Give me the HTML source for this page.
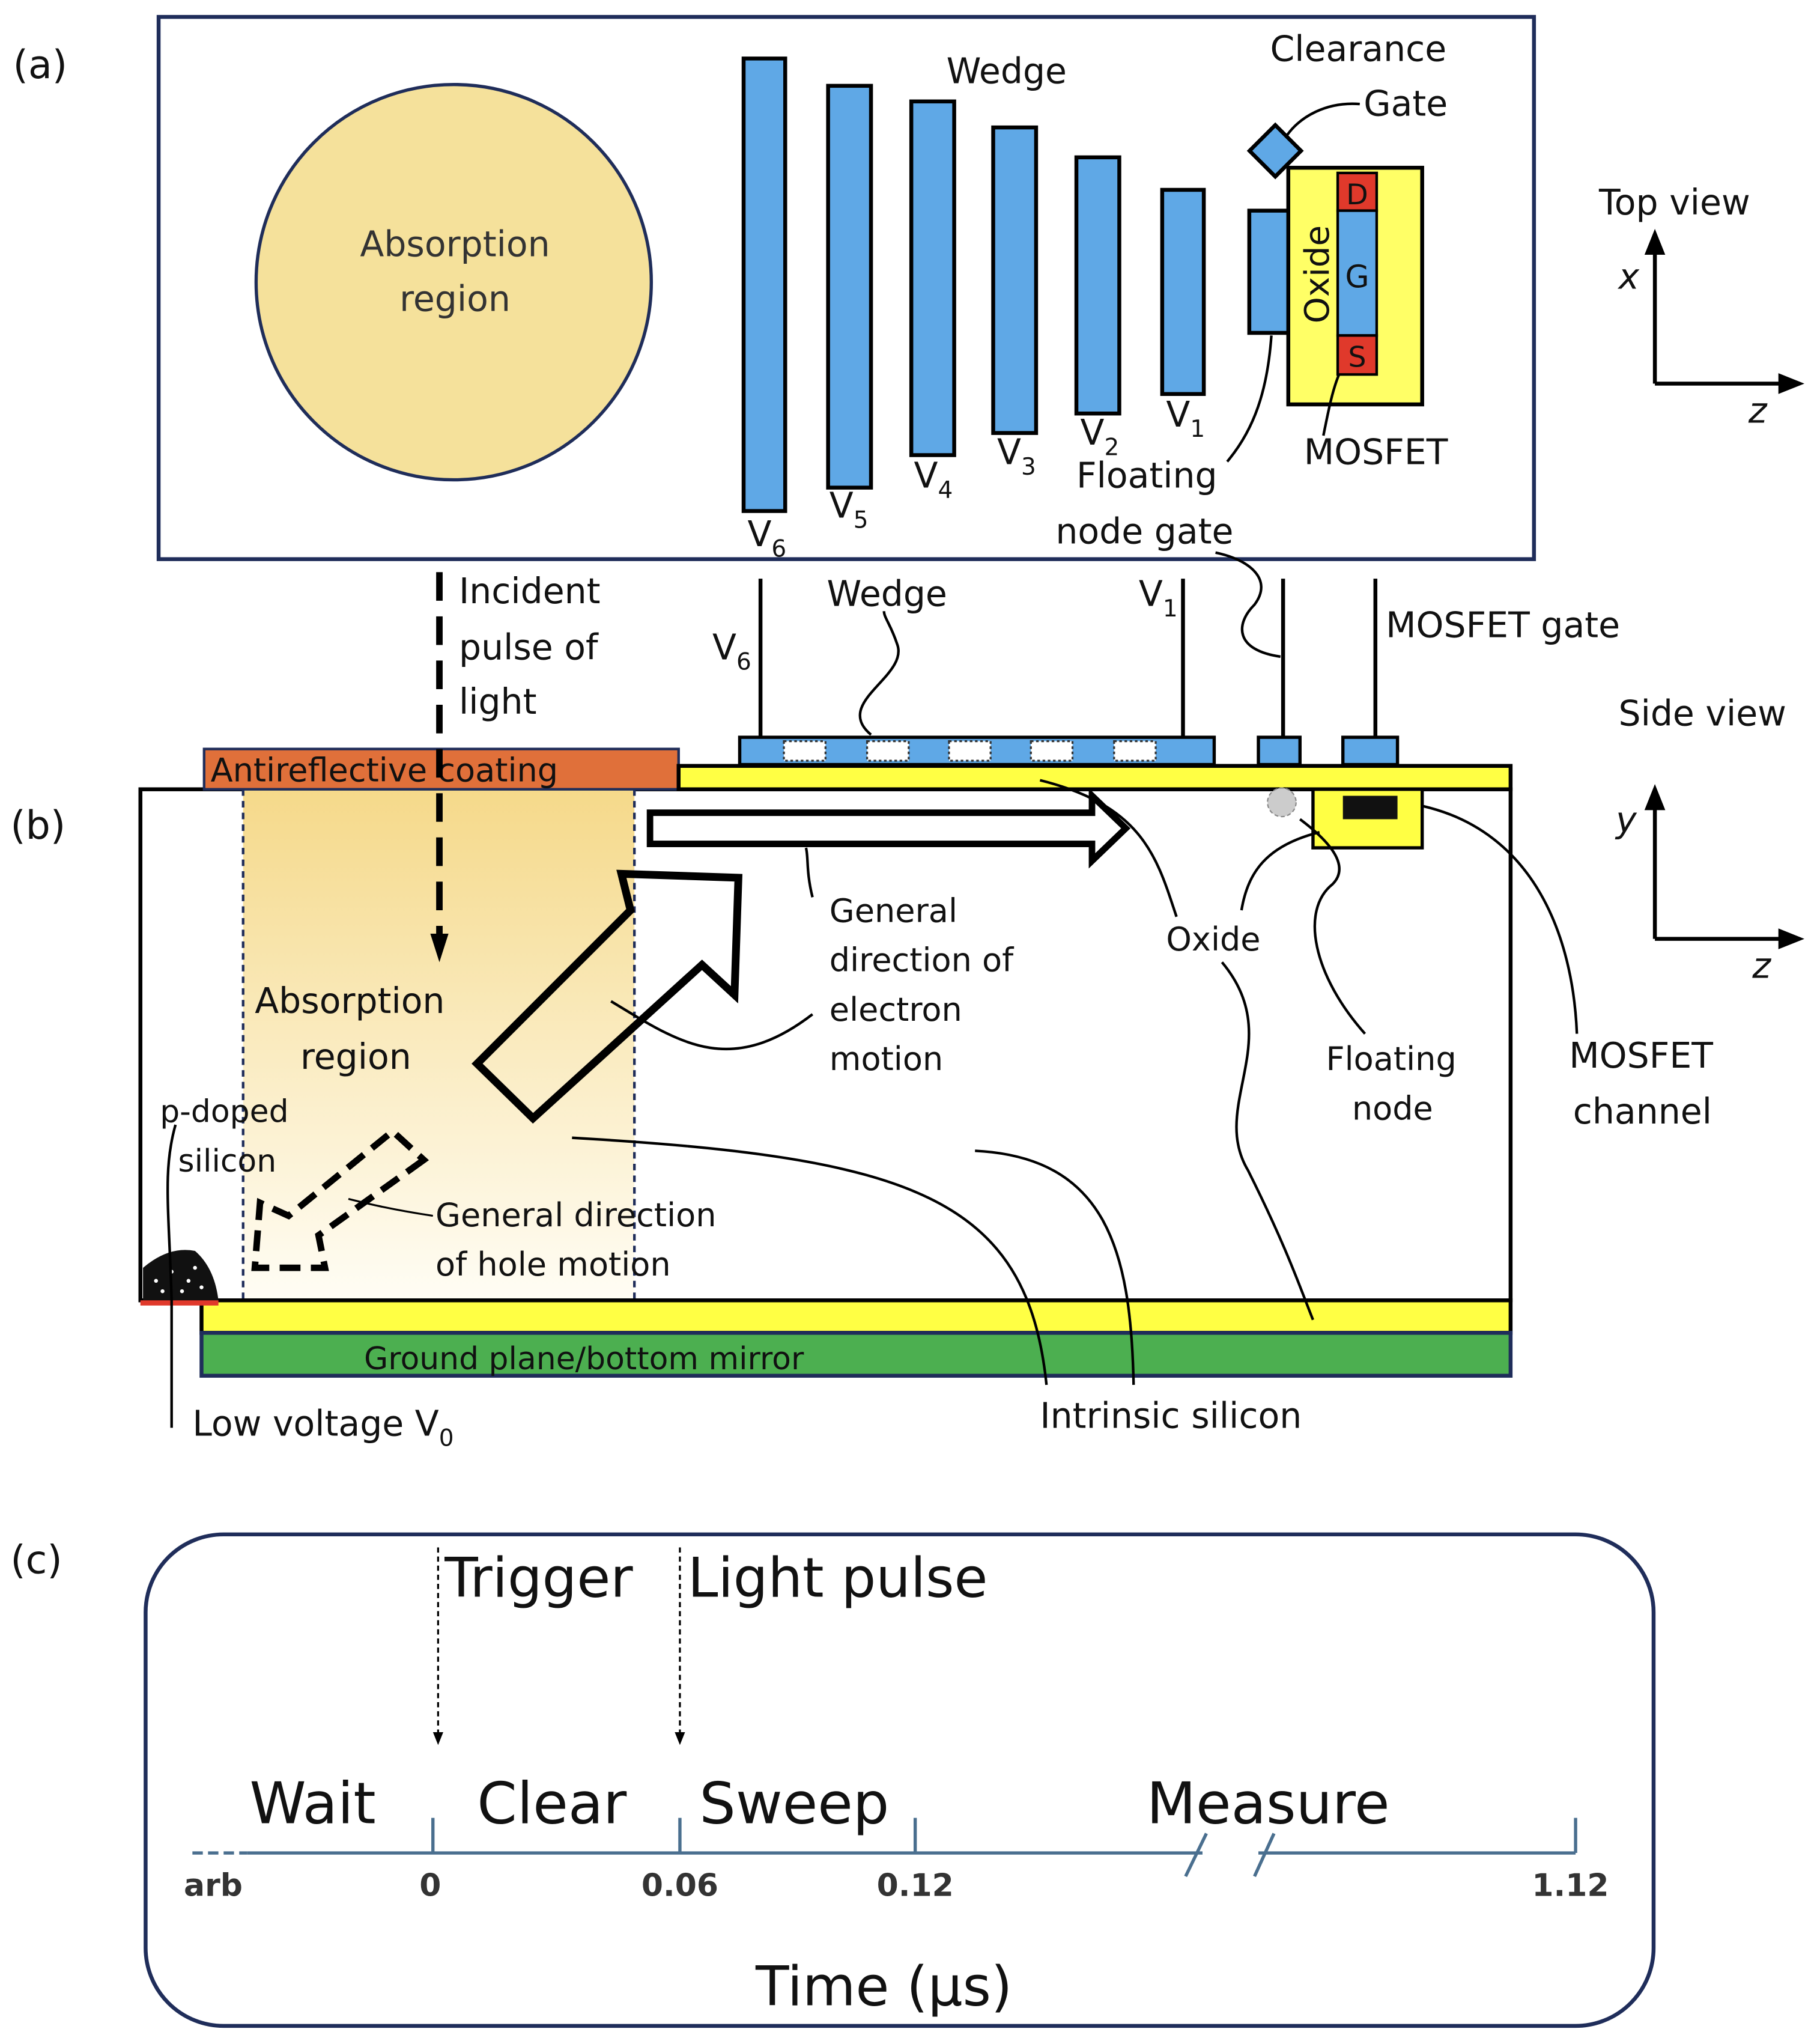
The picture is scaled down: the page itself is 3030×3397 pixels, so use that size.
<!DOCTYPE html>
<html><head><meta charset="utf-8"><style>html,body{margin:0;padding:0;background:#fff}svg{display:block}</style></head>
<body>
<svg xmlns="http://www.w3.org/2000/svg" width="3030" height="3397" viewBox="0 0 1400 1569.6" font-family="'DejaVu Sans','Liberation Sans',sans-serif">
<defs>
<linearGradient id="abs" x1="0" y1="0" x2="0" y2="1"><stop offset="0" stop-color="#f5d98a"/><stop offset="1" stop-color="#fffdf5"/></linearGradient>
<marker id="ah" markerUnits="userSpaceOnUse" markerWidth="20" markerHeight="20" refX="4" refY="10" orient="auto"><path d="M0,2 L20,10 L0,18 z" fill="#000"/></marker>
<marker id="ahb" markerUnits="userSpaceOnUse" markerWidth="24" markerHeight="24" refX="4" refY="12" orient="auto"><path d="M0,5 L22,12 L0,19 z" fill="#000"/></marker>
<marker id="ahs" markerUnits="userSpaceOnUse" markerWidth="12" markerHeight="12" refX="2" refY="6" orient="auto"><path d="M0,2 L10,6 L0,10 z" fill="#000"/></marker>
</defs>
<rect width="1400" height="1570" fill="#fff"/>
<g font-size="27" fill="#111">
<!-- (a) -->
<text x="10" y="60" font-size="30">(a)</text>
<rect x="122" y="13" width="1058" height="417" fill="none" stroke="#1f2d5a" stroke-width="3"/>
<circle cx="349" cy="217" r="152" fill="#f5e19b" stroke="#1f2d5a" stroke-width="2.5"/>
<text x="350" y="197" text-anchor="middle" fill="#333">Absorption</text>
<text x="350" y="239" text-anchor="middle" fill="#333">region</text>
<g fill="#5fa8e6" stroke="#000" stroke-width="3">
<rect x="572" y="45" width="32" height="348"/>
<rect x="637" y="66" width="33" height="309"/>
<rect x="701" y="78" width="33" height="272"/>
<rect x="764" y="98" width="33" height="235"/>
<rect x="828" y="121" width="33" height="197"/>
<rect x="894" y="146" width="32" height="157"/>
<rect x="961" y="162" width="31" height="94"/>
<rect x="967" y="102" width="28" height="28" transform="rotate(45 981 116)"/>
</g>
<rect x="991" y="129" width="103" height="182" fill="#ffff66" stroke="#000" stroke-width="3"/>
<rect x="1029" y="133" width="30" height="29" fill="#e0392b" stroke="#000" stroke-width="2"/>
<rect x="1029" y="162" width="30" height="96" fill="#5fa8e6" stroke="#000" stroke-width="2"/>
<rect x="1029" y="258" width="30" height="30" fill="#e0392b" stroke="#000" stroke-width="2"/>
<text x="1044" y="157" text-anchor="middle" font-size="22">D</text>
<text x="1044" y="221" text-anchor="middle" font-size="24">G</text>
<text x="1044" y="282" text-anchor="middle" font-size="22">S</text>
<text transform="translate(1022 211) rotate(-90)" text-anchor="middle" font-size="26">Oxide</text>
<text x="728" y="64">Wedge</text>
<text x="977" y="47">Clearance</text>
<text x="1049" y="89">Gate</text>
<path d="M1046,80 C1020,78 1000,90 990,104" fill="none" stroke="#000" stroke-width="2"/>
<text x="575" y="420">V<tspan font-size="18" dy="8">6</tspan></text>
<text x="638" y="398">V<tspan font-size="18" dy="8">5</tspan></text>
<text x="703" y="375">V<tspan font-size="18" dy="8">4</tspan></text>
<text x="767" y="357">V<tspan font-size="18" dy="8">3</tspan></text>
<text x="831" y="342">V<tspan font-size="18" dy="8">2</tspan></text>
<text x="897" y="328">V<tspan font-size="18" dy="8">1</tspan></text>
<text x="828" y="375">Floating</text>
<text x="812" y="418">node gate</text>
<path d="M944,355 C965,330 975,300 978,258" fill="none" stroke="#000" stroke-width="2"/>
<text x="1003" y="357">MOSFET</text>
<path d="M1018,335 C1022,315 1025,300 1030,288" fill="none" stroke="#000" stroke-width="2"/>
<text x="1230" y="165">Top view</text>
<line x1="1273" y1="295" x2="1273" y2="192" stroke="#000" stroke-width="3" marker-end="url(#ah)"/>
<line x1="1273" y1="295" x2="1372" y2="295" stroke="#000" stroke-width="3" marker-end="url(#ah)"/>
<text x="1245" y="222" font-style="italic">x</text>
<text x="1345" y="325" font-style="italic">z</text>

<!-- (b) -->
<text x="8" y="645" font-size="30">(b)</text>
<rect x="108" y="607" width="1054" height="393" fill="#fff" stroke="#000" stroke-width="3"/>
<rect x="187" y="607" width="301" height="393" fill="url(#abs)"/>
<line x1="187" y1="607" x2="187" y2="1000" stroke="#1f2d5a" stroke-width="2" stroke-dasharray="5,4"/>
<line x1="488" y1="607" x2="488" y2="1000" stroke="#1f2d5a" stroke-width="2" stroke-dasharray="5,4"/>
<rect x="157" y="576" width="365" height="31" fill="#e0703a" stroke="#1f2d5a" stroke-width="2"/>
<text x="162" y="601" font-size="25">Antireflective coating</text>
<rect x="522" y="589" width="640" height="18" fill="#ffff44" stroke="#000" stroke-width="3"/>
<rect x="569" y="567" width="365" height="21" fill="#5fa8e6" stroke="#000" stroke-width="2.5"/>
<g fill="#fff" stroke="#333" stroke-width="1.5" stroke-dasharray="2,2">
<rect x="603" y="570" width="32" height="15"/><rect x="667" y="570" width="32" height="15"/><rect x="730" y="570" width="32" height="15"/><rect x="793" y="570" width="32" height="15"/><rect x="857" y="570" width="32" height="15"/>
</g>
<rect x="968" y="567" width="32" height="21" fill="#5fa8e6" stroke="#000" stroke-width="2.5"/>
<rect x="1033" y="567" width="42" height="21" fill="#5fa8e6" stroke="#000" stroke-width="2.5"/>
<g stroke="#000" stroke-width="3">
<line x1="585" y1="445" x2="585" y2="567"/><line x1="910" y1="445" x2="910" y2="567"/><line x1="987" y1="445" x2="987" y2="567"/><line x1="1058" y1="445" x2="1058" y2="567"/>
</g>
<rect x="1010" y="607" width="84" height="45" fill="#ffff44" stroke="#000" stroke-width="2.5"/>
<rect x="1033" y="612" width="42" height="18" fill="#111"/>
<circle cx="986" cy="617" r="11" fill="#ccc" stroke="#888" stroke-dasharray="3,2"/>
<rect x="155" y="1000" width="1007" height="25" fill="#ffff44" stroke="#000" stroke-width="3"/>
<rect x="155" y="1025" width="1007" height="33" fill="#4caf50" stroke="#1f2d5a" stroke-width="3"/>
<text x="280" y="1053" font-size="24">Ground plane/bottom mirror</text>
<path d="M110,1000 L110,975 Q130,958 150,962 Q165,975 168,1000 Z" fill="#111"/>
<g fill="#fff"><circle cx="120" cy="985" r="1.5"/><circle cx="132" cy="978" r="1.5"/><circle cx="145" cy="985" r="1.5"/><circle cx="125" cy="993" r="1.5"/><circle cx="140" cy="993" r="1.5"/><circle cx="155" cy="990" r="1.5"/><circle cx="150" cy="975" r="1.5"/></g>
<line x1="108" y1="1002" x2="168" y2="1002" stroke="#e0392b" stroke-width="4"/>
<line x1="338" y1="440" x2="338" y2="722" stroke="#000" stroke-width="5" stroke-dasharray="22,12" marker-end="url(#ahb)"/>
<text x="353" y="464">Incident</text><text x="353" y="507">pulse of</text><text x="353" y="549">light</text>
<text x="636" y="466">Wedge</text>
<path d="M670,565 C640,540 700,520 690,495 C685,480 680,475 680,470" fill="none" stroke="#000" stroke-width="2"/>
<text x="548" y="507">V<tspan font-size="18" dy="8">6</tspan></text>
<text x="876" y="466">V<tspan font-size="18" dy="8">1</tspan></text>
<text x="1066" y="490">MOSFET gate</text>
<path d="M985,505 C950,500 950,480 965,465 C980,445 960,430 935,425" fill="none" stroke="#000" stroke-width="2"/>
<text x="1245" y="558">Side view</text>
<line x1="1273" y1="722" x2="1273" y2="619" stroke="#000" stroke-width="3" marker-end="url(#ah)"/>
<line x1="1273" y1="722" x2="1372" y2="722" stroke="#000" stroke-width="3" marker-end="url(#ah)"/>
<text x="1243" y="640" font-style="italic">y</text>
<text x="1348" y="752" font-style="italic">z</text>
<path d="M500,625 L840,625 L840,612 L866,637 L840,662 L840,649 L500,649 Z" fill="#fff" stroke="#000" stroke-width="5"/>
<path d="M367,818 L485,700 L478,672 L568,675 L565,765 L540,742 L410,860 Z" fill="none" stroke="#000" stroke-width="6"/>
<path d="M326,892 L245,950 L250,975 L196,975 L200,925 L222,935 L302,870 Z" fill="none" stroke="#000" stroke-width="5" stroke-dasharray="16,8"/>
<text x="196" y="779">Absorption</text><text x="231" y="822">region</text>
<text x="123" y="863" font-size="24">p-doped</text><text x="137" y="901" font-size="24">silicon</text>
<path d="M135,865 C125,900 130,930 132,1000 L132,1098" fill="none" stroke="#000" stroke-width="2"/>
<text x="335" y="943" font-size="25">General direction</text><text x="335" y="981" font-size="25">of hole motion</text>
<path d="M333,935 C300,930 280,925 268,922" fill="none" stroke="#000" stroke-width="1.5"/>
<text x="638" y="709" font-size="25">General</text><text x="638" y="747" font-size="25">direction of</text><text x="638" y="785" font-size="25">electron</text><text x="638" y="823" font-size="25">motion</text>
<path d="M625,690 C620,670 622,660 620,652" fill="none" stroke="#000" stroke-width="2"/>
<path d="M470,770 C520,800 560,830 625,780" fill="none" stroke="#000" stroke-width="2"/>
<text x="897" y="731" font-size="25">Oxide</text>
<path d="M905,705 C890,660 880,620 800,600" fill="none" stroke="#000" stroke-width="2"/>
<path d="M955,700 C960,670 975,650 1015,640" fill="none" stroke="#000" stroke-width="2"/>
<path d="M940,740 C990,800 930,850 960,900 C990,960 1000,990 1010,1015" fill="none" stroke="#000" stroke-width="2"/>
<text x="1020" y="823" font-size="25">Floating</text><text x="1040" y="861" font-size="25">node</text>
<path d="M1050,795 C1010,750 1000,700 1025,680 C1040,665 1020,645 1000,630" fill="none" stroke="#000" stroke-width="2"/>
<text x="1207" y="821">MOSFET</text><text x="1210" y="864">channel</text>
<path d="M1213,795 C1210,720 1180,640 1095,620" fill="none" stroke="#000" stroke-width="2"/>
<text x="800" y="1098">Intrinsic silicon</text>
<path d="M440,875 C700,890 790,920 805,1065" fill="none" stroke="#000" stroke-width="2"/>
<path d="M750,885 C850,890 870,960 872,1065" fill="none" stroke="#000" stroke-width="2"/>
<text x="148" y="1104">Low voltage V<tspan font-size="18" dy="8">0</tspan></text>

<!-- (c) -->
<text x="8" y="1210" font-size="30">(c)</text>
<rect x="112" y="1180" width="1160" height="378" rx="60" fill="none" stroke="#1f2d5a" stroke-width="3"/>
<line x1="337" y1="1190" x2="337" y2="1334" stroke="#000" stroke-width="1.5" stroke-dasharray="4,3" marker-end="url(#ahs)"/>
<line x1="523" y1="1190" x2="523" y2="1334" stroke="#000" stroke-width="1.5" stroke-dasharray="4,3" marker-end="url(#ahs)"/>
<text x="342" y="1228" font-size="42">Trigger</text>
<text x="529" y="1228" font-size="42">Light pulse</text>
<text x="192" y="1402" font-size="44">Wait</text>
<text x="367" y="1402" font-size="44">Clear</text>
<text x="538" y="1402" font-size="44">Sweep</text>
<text x="882" y="1402" font-size="44">Measure</text>
<g stroke="#4a6f8f" stroke-width="2.5" fill="none">
<line x1="148" y1="1425" x2="190" y2="1425" stroke-dasharray="8,4"/>
<line x1="190" y1="1425" x2="925" y2="1425"/>
<line x1="968" y1="1425" x2="1212" y2="1425"/>
<line x1="912" y1="1443" x2="928" y2="1410"/><line x1="965" y1="1443" x2="980" y2="1410"/>
<line x1="333" y1="1398" x2="333" y2="1425"/><line x1="523" y1="1398" x2="523" y2="1425"/><line x1="704" y1="1398" x2="704" y2="1425"/><line x1="1212" y1="1398" x2="1212" y2="1425"/>
</g>
<g font-size="24" font-weight="bold" fill="#333" text-anchor="middle">
<text x="164" y="1458">arb</text><text x="331" y="1458">0</text><text x="523" y="1458">0.06</text><text x="704" y="1458">0.12</text><text x="1208" y="1458">1.12</text>
</g>
<text x="680" y="1542" font-size="42" text-anchor="middle">Time (μs)</text>
</g>
</svg>
</body></html>
